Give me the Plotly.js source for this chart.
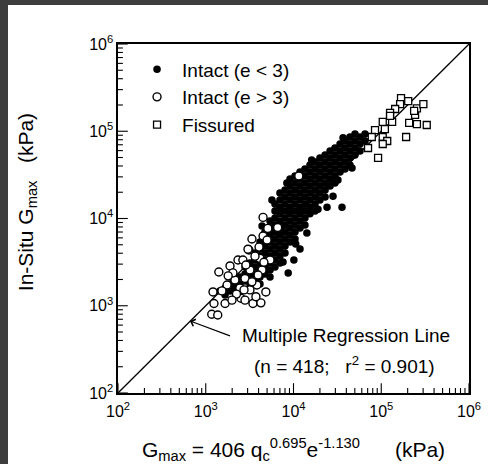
<!DOCTYPE html>
<html><head><meta charset="utf-8">
<script src="https://cdn.plot.ly/plotly-3.0.1.min.js"></script>
<style>
html,body{margin:0;padding:0;background:#fff;}
#chart{width:488px;height:464px;position:absolute;left:0;top:0;}
.edge{position:absolute;background:#3d3d3d;}
</style>
</head><body>
<div id="chart"></div>
<div class="edge" style="left:0;top:0;width:8px;height:464px"></div>
<div class="edge" style="left:0;top:0;width:488px;height:5px"></div>
<script>
// Intact (e < 3): predicted Gmax (kPa) vs in-situ Gmax (kPa)
const intactLowE_pred = [
1450,
1660,1660,
1890,1890,
2150,2150,
2450,2450,2450,
2800,2800,2800,
3190,3190,3190,3190,
3640,3640,3640,3640,3640,
4150,4150,4150,4150,4150,4150,4150,
4730,4730,4730,4730,4730,4730,4730,
5400,5400,5400,5400,5400,5400,5400,5400,5400,
6150,6150,6150,6150,6150,6150,6150,6150,6150,6150,
7010,7010,7010,7010,7010,7010,7010,7010,7010,7010,7010,
8000,8000,8000,8000,8000,8000,8000,8000,8000,8000,
9120,9120,9120,9120,9120,9120,9120,9120,9120,9120,
10400,10400,10400,10400,10400,10400,10400,10400,10400,10400,
11860,11860,11860,11860,11860,11860,11860,11860,11860,
13500,13500,13500,13500,13500,13500,13500,13500,13500,
15400,15400,15400,15400,15400,15400,15400,15400,
17600,17600,17600,17600,17600,17600,17600,17600,
20000,20000,20000,20000,20000,20000,20000,
22900,22900,22900,22900,22900,22900,22900,
26100,26100,26100,26100,26100,26100,
29700,29700,29700,29700,29700,29700,
33900,33900,33900,33900,33900,
38600,38600,38600,38600,38600,
44000,44000,44000,44000,44000,
50200,50200,50200,50200,
57300,57300,57300,
65300,65300,
8700,10100,11860,14200,24100,35700,28200,5680,
19000,32100,46400,10600,7600,4380,8400,16100,36700
];
const intactLowE_insitu = [
1480,
1600,1330,
1780,1480,
1920,1600,
2140,1780,1480,
2780,2310,1920,
3090,2570,2140,1780,
4020,3340,2780,2310,1920,
5380,4470,3720,3090,2570,2140,1780,
7000,5820,4840,4020,3340,2780,2310,
9360,7780,6470,5380,4470,3720,3090,2570,2140,
14700,12200,10100,8420,7000,5820,4840,4020,3340,2780,
19600,16300,13500,11300,9360,7780,6470,5380,4470,3720,3090,
21200,17600,14700,12200,10100,8420,7000,5820,4840,4020,
28400,23600,19600,16300,13500,11300,9360,7780,6470,5380,
30700,25500,21200,17600,14700,12200,10100,8420,7000,5820,
34100,28400,23600,19600,16300,13500,11300,9360,7780,
36900,30700,25500,21200,17600,14700,12200,10100,8420,
41000,34100,28400,23600,19600,16300,13500,11300,
44400,36900,30700,25500,21200,17600,14700,12200,
49400,41000,34100,28400,23600,19600,16300,
53400,44400,36900,30700,25500,21200,17600,
59400,49400,41000,34100,28400,23600,
64300,53400,44400,36900,30700,25500,
71400,59400,49400,41000,34100,
77300,64300,53400,44400,36900,
85900,71400,59400,49400,41000,
93000,77300,64300,53400,
85900,71400,59400,
93000,77300,
2370,3340,4470,6800,13500,13500,18000,16300,
12800,27600,37900,5100,3180,8230,25500,46900,84000
];

// Intact (e > 3)
const intactHighE_pred = [
1410,1210,1240,1170,1370,1660,3450,4250,2520,4840,
1890,2330,3100,3360,4050,4500,6600,5100,2800,2150,
1750,3190,3830,3190,2450,4380,4150,5400,2650,2040,
3360,11500,4500,3030,3640,5000,1530,2870,2240,3730,
1800,2730,1990,3950,4600,2800
];
const intactHighE_insitu = [
2440,1440,1060,800,783,1060,1060,1080,1220,1440,
2860,3340,4350,5830,4700,6300,7900,7700,2050,1970,
1730,2570,1730,1520,1600,2570,3490,3340,3340,2380,
1880,30700,10300,4450,3700,5670,1480,2930,1360,1270,
2200,1520,1160,2250,3150,1160
];

// Fissured
const fissured_pred = [
168000,164000,203000,144000,126000,133000,104000,110000,84900,104000,
117000,104000,70700,92000,192000,208000,255000,330000,243000,255000,
302000,237000,78000,126000
];
const fissured_insitu = [
240000,205000,222000,180000,162000,128000,128000,106000,103000,85900,
77300,71400,64300,49400,85900,125000,121000,118000,154000,183000,
205000,171000,85900,150000
];

// 1:1 multiple regression line
const lineX = [1e2, 1e6];
const lineY = [1e2, 1e6];

// axis ticks
const axisMin = 1e2;
const tickVals = [1e2, 1e3, 1e4, 1e5, 1e6];
const tickText = ['10<sup>2</sup>','10<sup>3</sup>','10<sup>4</sup>','10<sup>5</sup>','10<sup>6</sup>'];
const minorTickVals = [
200,300,400,500,600,700,800,900,
2000,3000,4000,5000,6000,7000,8000,9000,
20000,30000,40000,50000,60000,70000,80000,90000,
200000,300000,400000,500000,600000,700000,800000,900000
];

const FONT = 'Liberation Sans, Arial, Helvetica, sans-serif';

// inward tick marks, placed on the axis lines through the axes' own scales
function tickTrace(vals, len, vertical) {
  const base = vals.map(() => axisMin);
  return {
    x: vertical ? vals : base, y: vertical ? base : vals,
    mode: 'markers', showlegend: false, hoverinfo: 'skip', cliponaxis: true,
    marker: {symbol: vertical ? 'line-ns' : 'line-ew', size: 2 * len, color: '#000',
             line: {color: '#000', width: 1.1}}
  };
}

const traces = [
  tickTrace(tickVals, 7, true),
  tickTrace(minorTickVals, 3.5, true),
  tickTrace(tickVals, 7, false),
  tickTrace(minorTickVals, 3.5, false),
  {x: lineX, y: lineY, mode: 'lines', line: {color: '#000', width: 1.3}, showlegend: false, hoverinfo: 'skip'},
  {x: intactLowE_pred, y: intactLowE_insitu, mode: 'markers', name: 'Intact (e &lt; 3)', legendrank: 1,
   marker: {symbol: 'circle', size: 7.5, color: '#000', line: {width: 0}}},
  {x: fissured_pred, y: fissured_insitu, mode: 'markers', name: 'Fissured', legendrank: 3,
   marker: {symbol: 'square', size: 7, color: '#fff', line: {color: '#000', width: 1.3}}},
  {x: intactHighE_pred, y: intactHighE_insitu, mode: 'markers', name: 'Intact (e &gt; 3)', legendrank: 2,
   marker: {symbol: 'circle', size: 8, color: '#fff', line: {color: '#000', width: 1.4}}}
];

const axisBase = {
  type: 'log', range: [2, 6], tickmode: 'array', tickvals: tickVals, ticktext: tickText,
  ticks: '', showline: true, linewidth: 1.6, linecolor: '#000', mirror: true,
  showgrid: false, zeroline: false,
  tickfont: {family: FONT, size: 16, color: '#000'}
};

const layout = {
  width: 488, height: 464,
  margin: {l: 118, r: 19, t: 44, b: 71},
  paper_bgcolor: '#fff', plot_bgcolor: '#fff',
  font: {family: FONT, color: '#000'},
  xaxis: Object.assign({}, axisBase, {
    ticklabelstandoff: 3,
    title: {text: 'G<sub>max</sub> = 406 q<sub>c</sub><sup>0.695</sup>e<sup>-1.130</sup>      (kPa)',
            font: {family: FONT, size: 21, color: '#000'}, standoff: 24}
  }),
  yaxis: Object.assign({}, axisBase, {}),
  showlegend: true,
  legend: {x: 0.04, y: 0.982, xanchor: 'left', yanchor: 'top', bgcolor: 'rgba(0,0,0,0)',
           font: {family: FONT, size: 19, color: '#000'}, traceorder: 'normal', itemwidth: 40},
  annotations: [
    {xref: 'paper', yref: 'paper', x: (240-118)/351, y: 0.166, xanchor: 'left', yanchor: 'middle',
     text: 'Multiple Regression Line', showarrow: false, font: {family: FONT, size: 19, color: '#000'}},
    {xref: 'paper', yref: 'paper', x: 0.2051, y: 0.2063, text: ' ', showarrow: true,
     ax: 43, ay: 16, arrowhead: 4, arrowsize: 1.2, arrowwidth: 1.2, arrowcolor: '#000'},
    {xref: 'paper', yref: 'paper', x: (252-118)/351, y: 0.080, xanchor: 'left', yanchor: 'middle',
     text: '(n = 418;   r<sup>2</sup> = 0.901)', showarrow: false, font: {family: FONT, size: 19, color: '#000'}},
    {xref: 'paper', yref: 'paper', x: -0.259, y: 0.547, xanchor: 'center', yanchor: 'middle', textangle: -90,
     text: 'In-Situ G<sub>max</sub>   (kPa)', showarrow: false, font: {family: FONT, size: 21, color: '#000'}}
  ]
};

Plotly.newPlot('chart', traces, layout, {staticPlot: true, displayModeBar: false});
</script>
</body></html>
